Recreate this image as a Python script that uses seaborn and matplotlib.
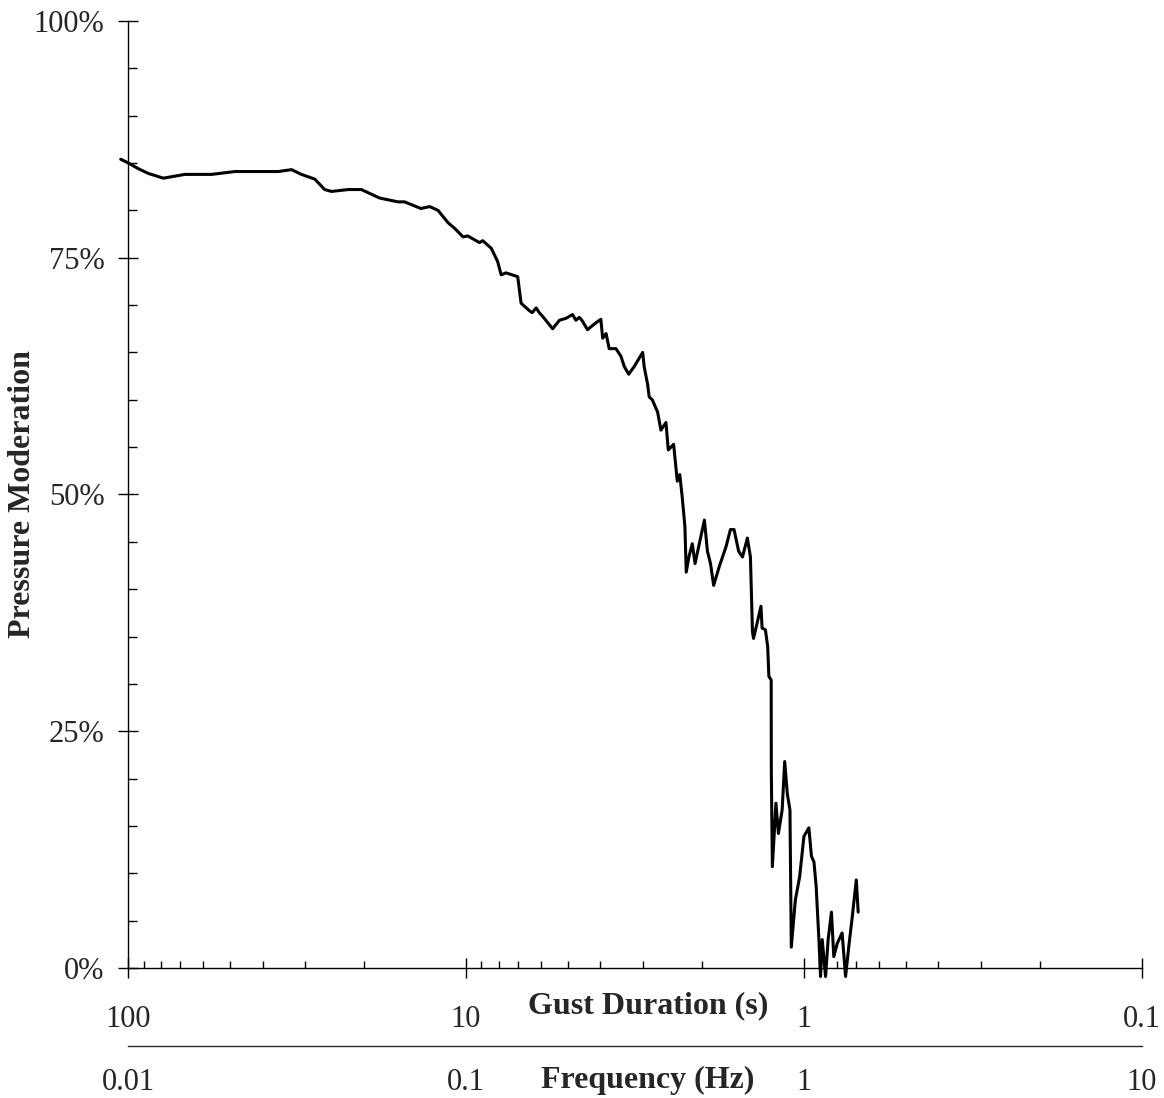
import numpy as np
import pandas as pd
import seaborn as sns
import matplotlib
matplotlib.use('Agg')
import matplotlib.pyplot as plt
from matplotlib.ticker import MultipleLocator, NullFormatter, NullLocator, LogLocator

# gust duration (s) vs pressure moderation (%)
duration = [105.1, 99.8, 93.2, 87.1, 78.6, 67.9, 56.6, 48.3, 36.0, 32.8, 30.7, 28.0, 26.2, 25.0,
            22.3, 20.4, 18.0, 15.9, 15.2, 13.6, 12.8, 12.1, 11.3, 10.8, 10.2, 9.88, 9.12, 8.92,
            8.42, 8.06, 7.87, 7.61, 7.03, 6.87, 6.49, 6.37, 6.20, 6.07, 5.93, 5.54, 5.29, 5.06,
            4.84, 4.73, 4.62, 4.54, 4.37, 4.17, 3.99, 3.94, 3.85, 3.77, 3.60, 3.48, 3.40, 3.30,
            3.18, 3.00, 2.97, 2.90, 2.87, 2.81, 2.71, 2.65, 2.56, 2.52, 2.43, 2.37, 2.33, 2.29,
            2.25, 2.23, 2.19, 2.14, 2.10, 2.04, 1.97, 1.93, 1.89, 1.85, 1.78, 1.70, 1.65, 1.61,
            1.56, 1.52, 1.47, 1.44, 1.42, 1.41, 1.37, 1.34, 1.33, 1.30, 1.28, 1.27, 1.25, 1.249,
            1.24, 1.21, 1.19, 1.16, 1.14, 1.12, 1.10, 1.09, 1.06, 1.03, 1.00, 0.967, 0.950, 0.934,
            0.920, 0.903, 0.893, 0.883, 0.863, 0.848, 0.829, 0.816, 0.797, 0.771, 0.753, 0.736,
            0.720, 0.700, 0.691]
moderation = [85.4, 85.0, 84.4, 83.9, 83.4, 83.8, 83.8, 84.1, 84.1, 84.3, 83.8, 83.3, 82.2, 82.0,
              82.2, 82.2, 81.3, 80.9, 80.9, 80.2, 80.4, 80.0, 78.7, 78.1, 77.2, 77.3, 76.6, 76.8,
              76.0, 74.6, 73.2, 73.4, 73.0, 70.2, 69.4, 69.2, 69.7, 69.2, 68.8, 67.5, 68.4, 68.6,
              69.0, 68.4, 68.7, 68.4, 67.4, 68.0, 68.5, 66.5, 67.0, 65.4, 65.4, 64.6, 63.5, 62.7,
              63.5, 65.0, 63.5, 61.6, 60.3, 60.0, 58.7, 56.8, 57.6, 54.7, 55.3, 51.4, 52.1, 49.6,
              46.6, 41.8, 43.4, 44.8, 42.7, 44.8, 47.3, 44.0, 42.7, 40.4, 42.4, 44.5, 46.3, 46.3,
              44.0, 43.4, 45.4, 43.4, 35.5, 34.8, 36.7, 38.2, 35.9, 35.7, 33.9, 30.8, 30.4, 20.9,
              10.7, 17.4, 14.2, 16.7, 21.8, 18.4, 16.7, 2.2, 7.2, 9.6, 13.9, 14.8, 11.8, 11.2,
              8.6, 3.0, -0.9, 3.0, -0.9, 3.0, 5.9, 1.2, 2.6, 3.7, -0.9, 2.4,
              5.3, 9.3, 5.9]

dur_ticks = [100, 10, 1, 0.1]
dur_labels = ['100', '10', '1', '0.1']
freq_ticks = [0.01, 0.1, 1, 10]
freq_labels = ['0.01', '0.1', '1', '10']
y_ticks = [0, 25, 50, 75, 100]
y_labels = ['0%', '25%', '50%', '75%', '100%']

df = pd.DataFrame({'duration': duration, 'moderation': moderation})

sns.set_style('ticks')
plt.rcParams['font.family'] = ['Liberation Serif', 'DejaVu Serif']

fig = plt.figure(figsize=(11.64, 10.98), dpi=100)
ax = fig.add_axes([0.110, 0.1184, 0.871, 0.8625])

sns.lineplot(data=df, x='duration', y='moderation', sort=False, estimator=None,
             color='black', linewidth=2.2, ax=ax, clip_on=False)

ax.set_xscale('log')
ax.set_xlim(100, 0.1)
ax.set_ylim(0, 100)
ax.set_xticks(dur_ticks)
ax.set_xticklabels(dur_labels)
ax.xaxis.set_minor_locator(LogLocator(base=10, subs=np.arange(2, 10)))
ax.xaxis.set_minor_formatter(NullFormatter())
ax.set_yticks(y_ticks)
ax.set_yticklabels(y_labels)
ax.yaxis.set_minor_locator(MultipleLocator(5))
ax.set_xlabel('')
ax.set_ylabel('')

for s in ['top', 'right']:
    ax.spines[s].set_visible(False)
for s in ['left', 'bottom']:
    ax.spines[s].set_linewidth(1.0)
    ax.spines[s].set_color('black')

ax.tick_params(axis='both', which='major', direction='inout', length=14, width=1.0,
               color='black', labelsize=22)
ax.tick_params(axis='y', which='major', pad=10)
ax.tick_params(axis='x', which='major', pad=20)
ax.tick_params(axis='y', which='minor', direction='in', length=6.5, width=1.0, color='black')
ax.tick_params(axis='x', which='minor', direction='in', length=5, width=1.0, color='black')

inv = lambda v: 1.0 / v
sec = ax.secondary_xaxis(-0.082, functions=(inv, inv))
sec.set_xticks(freq_ticks)
sec.set_xticklabels(freq_labels)
sec.xaxis.set_minor_locator(NullLocator())
sec.tick_params(axis='x', which='both', length=0, pad=16, labelsize=22)
sec.spines['bottom'].set_linewidth(1.0)

ax.text(0.513, -0.0475, 'Gust Duration (s)', transform=ax.transAxes, ha='center',
        va='baseline', fontsize=23, fontweight='bold')
ax.text(0.513, -0.1267, 'Frequency (Hz)', transform=ax.transAxes, ha='center',
        va='baseline', fontsize=23, fontweight='bold')
ax.text(-0.1045, 0.5, 'Pressure Moderation', transform=ax.transAxes, ha='center',
        va='center', rotation=90, fontsize=23, fontweight='bold')

fig.savefig('out.png', dpi=100)
